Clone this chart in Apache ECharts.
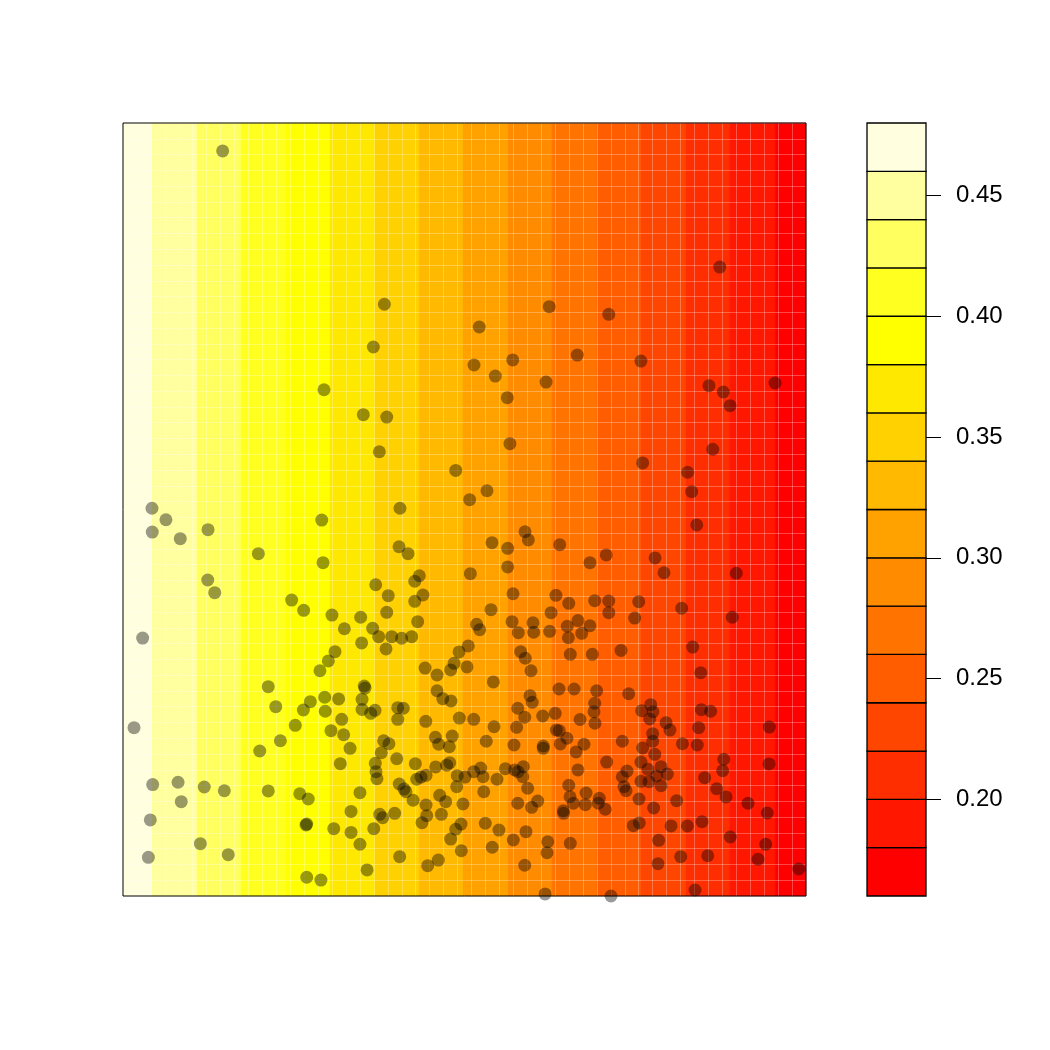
<!DOCTYPE html>
<html><head><meta charset="utf-8">
<script src="https://cdn.jsdelivr.net/npm/echarts@6/dist/echarts.min.js"></script>
<style>html,body{margin:0;padding:0;background:#fff}#c{width:1050px;height:1050px}</style>
</head><body><div id="c"></div>
<script>
// contour level breaks (colour key) and R heat.colors(16)
const levelBreaks = [0.16,0.18,0.20,0.22,0.24,0.26,0.28,0.30,0.32,0.34,0.36,0.38,0.40,0.42,0.44,0.46,0.48];
const heatColors = ['#FF0000','#FF1700','#FF2E00','#FF4600','#FF5D00','#FF7400','#FF8B00','#FFA200','#FFB900','#FFD100','#FFE800','#FFFF00','#FFFF20','#FFFF60','#FFFF9F','#FFFFDF'];
// x positions of the filled-contour band edges (grid cell units, 0..49)
const bandEdges = [0,2.08,5.31,8.47,11.69,14.85,18.08,21.24,24.39,27.62,30.78,34.01,37.16,40.39,43.55,46.78,49];
const colorbarTicks = [0.20,0.25,0.30,0.35,0.40,0.45];
// scatter points (grid cell units)
const pointsX = [
7.15,18.75,17.96,30.58,25.56,25.18,27.96,26.71,30.35,32.59,
34.85,37.16,42.81,46.78,14.42,2.08,3.08,2.10,4.11,6.10,
14.26,9.71,14.35,6.08,6.58,12.10,12.96,14.99,15.88,1.41,
27.57,17.24,18.92,18.39,27.76,23.87,26.11,24.87,19.87,28.84,
29.08,19.80,20.45,26.47,27.60,31.33,27.60,24.92,21.26,20.93,
18.13,19.03,21.52,20.93,27.98,31.06,31.98,18.92,26.40,30.71,
17.05,21.14,25.37,25.59,27.91,29.41,32.64,31.87,17.91,18.34,
19.28,19.99,20.71,28.36,29.46,30.61,31.95,17.12,42.04,43.07,
43.55,42.31,37.28,40.51,40.80,41.16,34.67,33.50,38.17,38.81,
44.00,33.84,34.85,34.85,37.00,36.71,40.08,43.71,33.50,32.91,
15.21,14.73,14.13,10.42,10.96,13.44,12.94,14.47,15.47,14.51,
15.69,12.36,14.92,15.83,16.29,0.79,11.29,9.81,15.59,2.13,
3.95,4.18,5.83,7.27,10.42,12.68,13.29,1.96,13.18,13.13,
15.12,16.36,16.36,5.55,7.55,1.82,13.18,14.20,18.87,24.11,
24.77,21.67,22.53,23.75,23.51,24.68,28.53,28.86,29.27,32.09,
26.57,17.31,17.36,17.15,17.15,17.77,18.08,22.53,22.94,23.53,
19.71,20.11,19.71,21.72,24.13,25.16,29.20,29.36,31.28,32.36,
28.32,28.82,30.11,31.01,32.79,28.24,26.62,31.09,31.30,31.85,
31.37,30.15,30.15,32.50,22.41,23.62,22.65,23.41,26.06,28.05,
18.70,19.08,18.53,19.64,18.10,18.15,18.22,20.97,22.43,23.22,
23.44,21.07,21.38,21.74,23.98,24.54,25.16,25.66,25.83,26.83,
27.43,28.10,28.34,28.72,28.68,32.64,19.82,20.30,20.16,20.81,
23.94,25.88,29.03,31.98,32.07,32.31,17.00,18.42,18.63,19.49,
22.72,23.15,21.74,21.79,22.84,24.39,28.32,29.32,29.75,31.59,
31.61,21.45,24.25,23.87,25.99,17.99,17.00,23.51,24.27,26.97,
26.49,28.00,28.91,30.47,30.42,32.09,19.85,22.62,21.86,17.51,
28.82,30.28,33.67,35.73,40.87,41.45,33.98,36.28,33.84,33.79,
33.86,37.86,37.21,38.02,37.79,38.96,39.24,41.49,42.16,41.30,
46.37,38.00,38.00,37.28,35.82,40.13,41.20,33.07,38.15,34.70,
37.16,43.10,43.02,46.35,37.66,38.60,39.05,38.29,36.16,35.82,
37.16,37.74,38.60,35.94,36.09,41.73,33.22,33.17,34.17,34.10,
34.60,37.02,38.07,39.72,42.59,43.26,44.84,46.22,36.61,37.04,
39.32,40.49,41.54,38.43,43.57,46.11,40.01,41.95,45.56,38.38,
48.48,41.04,35.01];
const pointsY = [
47.23,37.51,34.80,37.36,36.07,33.66,33.98,32.96,32.58,34.29,
36.87,33.91,39.87,32.52,32.09,24.58,23.85,23.07,22.65,23.22,
23.83,21.70,21.13,20.03,19.23,18.76,18.11,17.81,16.94,16.35,
31.59,30.51,30.36,28.16,28.67,26.98,25.69,25.12,24.58,23.09,
22.57,22.14,21.70,22.40,22.04,22.27,20.86,20.43,20.30,19.95,
19.73,19.04,19.08,18.68,19.16,19.06,18.55,17.98,18.15,17.96,
17.67,17.39,17.22,16.88,17.39,17.32,17.46,17.10,16.97,16.44,
16.44,16.34,16.44,16.69,16.72,16.78,16.37,16.04,32.35,31.95,
31.08,28.32,27.45,26.86,25.63,23.52,21.62,21.13,21.43,20.49,
20.46,18.72,18.70,17.96,18.66,17.62,18.24,17.67,17.13,16.65,
15.49,14.90,14.28,13.27,12.00,12.32,11.79,12.60,12.49,11.71,
11.20,10.82,10.48,10.22,9.36,10.67,9.84,9.19,8.39,7.06,
7.21,5.98,6.91,6.67,6.66,6.48,6.15,4.82,4.56,4.50,
4.27,5.36,4.03,3.32,2.62,2.45,1.19,1.01,15.66,15.47,
15.85,14.45,14.01,14.75,14.33,14.52,15.49,15.07,14.28,15.32,
13.57,13.31,13.18,12.47,11.83,11.58,11.77,13.01,12.51,12.36,
11.94,11.90,11.20,11.07,11.28,11.20,12.70,12.28,13.12,13.12,
11.90,11.33,11.41,11.58,11.19,10.69,10.73,10.52,10.48,10.00,
9.64,9.51,9.36,9.13,10.06,10.14,9.62,9.46,9.81,9.57,
9.84,9.65,9.08,8.70,8.41,7.88,7.44,8.39,8.18,8.29,
8.45,7.40,7.54,7.65,7.63,7.54,7.88,8.11,7.56,7.40,
8.07,7.99,7.88,8.20,7.56,7.99,7.10,6.61,6.78,6.07,
6.93,6.61,6.83,7.02,6.29,5.88,6.55,5.18,4.96,5.24,
6.38,5.98,5.77,5.09,5.18,5.83,5.88,5.62,6.02,5.41,
5.24,4.65,4.56,4.23,4.61,4.27,3.28,3.61,2.87,4.18,
3.09,3.55,4.08,3.44,2.74,3.34,2.49,2.28,1.92,1.65,
1.95,0.13,15.32,15.57,15.78,14.15,13.01,12.82,12.22,11.68,
10.95,12.13,11.75,11.68,11.22,10.99,10.52,11.81,11.71,10.67,
10.71,10.29,9.81,9.38,9.81,9.65,9.57,9.62,8.98,8.49,
8.49,8.67,7.94,8.37,8.03,8.20,7.73,7.61,7.92,7.56,
7.27,7.25,6.99,6.93,6.67,7.50,6.53,5.79,6.19,5.88,
5.50,6.15,5.58,6.04,6.80,6.28,5.88,5.26,4.46,4.63,
4.44,4.44,4.71,3.53,3.74,3.28,2.49,2.55,2.33,2.05,
1.71,0.38,0.00];

const X_MAX = 49, Y_MAX = 49;
const nBands = bandEdges.length - 1;
const bandData = [];
for (let i = 0; i < nBands; i++) bandData.push([bandEdges[i], bandEdges[i+1], nBands - 1 - i]);
const keyData = [];
for (let i = 0; i < levelBreaks.length - 1; i++) keyData.push([levelBreaks[i], levelBreaks[i+1], i]);
const scatterData = pointsX.map((x, i) => [x, pointsY[i]]);

const chart = echarts.init(document.getElementById('c'), null, {renderer: 'canvas'});
const seam = 'rgba(255,255,255,0.28)';
chart.setOption({
  animation: false,
  backgroundColor: '#ffffff',
  grid: [
    {left: 123, top: 123, width: 683, height: 773, show: true, borderColor: '#000', borderWidth: 1, backgroundColor: 'transparent', z: 10},
    {left: 867, top: 123, width: 59, height: 773, show: false}
  ],
  xAxis: [
    {type: 'value', gridIndex: 0, min: 0, max: X_MAX, interval: 1, z: 3,
     axisLine: {show: false}, axisTick: {show: false}, axisLabel: {show: false},
     splitLine: {show: true, lineStyle: {color: seam, width: 1}}},
    {type: 'value', gridIndex: 1, min: 0, max: 1, show: false}
  ],
  yAxis: [
    {type: 'value', gridIndex: 0, min: 0, max: Y_MAX, interval: 1, z: 3,
     axisLine: {show: false}, axisTick: {show: false}, axisLabel: {show: false},
     splitLine: {show: true, lineStyle: {color: seam, width: 1}}},
    {type: 'value', gridIndex: 1, min: levelBreaks[0], max: levelBreaks[levelBreaks.length-1], position: 'right', z: 12,
     axisLine: {show: false, onZero: false},
     axisTick: {show: true, inside: false, length: 15, customValues: colorbarTicks, lineStyle: {color: '#000', width: 1}},
     axisLabel: {show: true, inside: false, margin: 30, customValues: colorbarTicks, color: '#000', fontSize: 24,
                 fontFamily: 'Liberation Sans, Arial, sans-serif', formatter: v => v.toFixed(2)},
     splitLine: {show: false}}
  ],
  series: [
    {type: 'custom', xAxisIndex: 0, yAxisIndex: 0, z: 1, silent: true, data: bandData,
     renderItem: (params, api) => {
       const p0 = api.coord([api.value(0), Y_MAX]);
       const p1 = api.coord([api.value(1), 0]);
       return {type: 'rect', shape: {x: p0[0], y: p0[1], width: p1[0] - p0[0], height: p1[1] - p0[1]},
               style: {fill: heatColors[api.value(2)], stroke: heatColors[api.value(2)], lineWidth: 0.5}};
     }},
    {type: 'scatter', xAxisIndex: 0, yAxisIndex: 0, z: 5, data: scatterData, symbol: 'circle', symbolSize: 13,
     itemStyle: {color: 'rgba(0,0,0,0.5)'}, silent: true},
    {type: 'custom', xAxisIndex: 1, yAxisIndex: 1, z: 11, silent: true, data: keyData,
     renderItem: (params, api) => {
       const p0 = api.coord([0, api.value(1)]);
       const p1 = api.coord([1, api.value(0)]);
       return {type: 'rect', shape: {x: p0[0], y: p0[1], width: p1[0] - p0[0], height: p1[1] - p0[1]},
               style: {fill: heatColors[api.value(2)], stroke: '#000', lineWidth: 1.3}};
     }}
  ]
});
</script>
</body></html>
